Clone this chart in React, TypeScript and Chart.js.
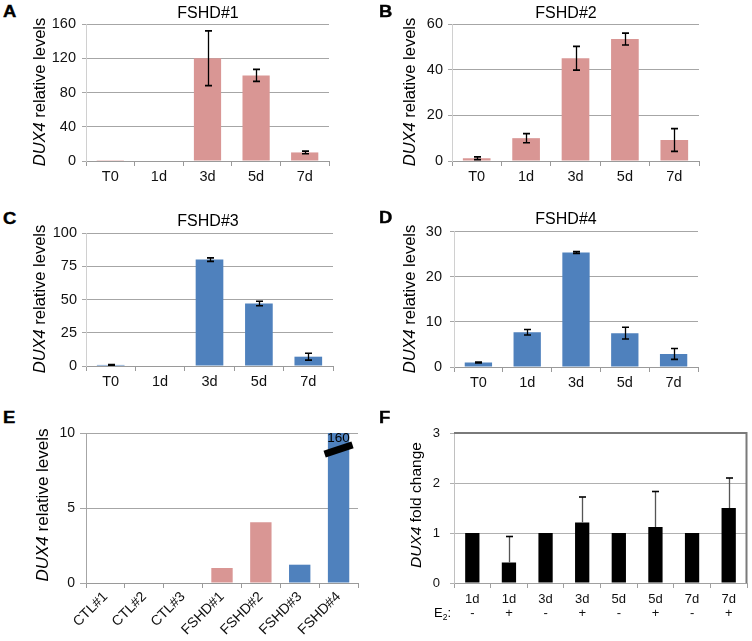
import React, { useEffect, useRef } from "react";
import { Chart, registerables } from "chart.js";

Chart.register(...registerables);

// ---------- data ----------
const timeLabels = ["T0", "1d", "3d", "5d", "7d"];

const fshd1Values = [1, 0, 120, 100, 10];
const fshd1Errors = [0, 0, 32, 7, 1.5];

const fshd2Values = [1.2, 10, 45, 53.4, 9.2];
const fshd2Errors = [0.6, 2, 5.2, 2.6, 5];

const fshd3Values = [0.8, 0, 80, 47, 7];
const fshd3Errors = [0.2, 0, 1.3, 1.7, 2.6];

const fshd4Values = [1.0, 7.7, 25.4, 7.5, 2.9];
const fshd4Errors = [0.1, 0.6, 0.2, 1.3, 1.2];

const sampleLabels = ["CTL#1", "CTL#2", "CTL#3", "FSHD#1", "FSHD#2", "FSHD#3", "FSHD#4"];
const sampleValues = [0, 0, 0, 1.0, 4.05, 1.22, 160];

const foldDays = ["1d", "1d", "3d", "3d", "5d", "5d", "7d", "7d"];
const foldE2 = ["-", "+", "-", "+", "-", "+", "-", "+"];
const foldValues = [1, 0.41, 1, 1.21, 1, 1.12, 1, 1.5];
const foldErrors = [0, 0.52, 0, 0.51, 0, 0.71, 0, 0.6];

// ---------- styles ----------
const FONT = "'Liberation Sans', Arial, Helvetica, sans-serif";
const PINK = "#D99694";
const BLUE = "#4F81BD";
const patientColor: Record<string, string> = {
  "CTL#1": "#808080",
  "CTL#2": "#808080",
  "CTL#3": "#808080",
  "FSHD#1": PINK,
  "FSHD#2": PINK,
  "FSHD#3": BLUE,
  "FSHD#4": BLUE,
};

// ---------- plugins ----------
const errorBarPlugin = {
  id: "errorBars",
  afterDatasetsDraw(chart: any, _args: any, opts: any) {
    if (!opts || !opts.errors) return;
    const ctx = chart.ctx;
    const y = chart.scales.y;
    const meta = chart.getDatasetMeta(0);
    const values = chart.data.datasets[0].data;
    ctx.save();
    meta.data.forEach((el: any, i: number) => {
      const e = opts.errors[i];
      if (!e) return;
      const v = values[i];
      const x = Math.round(el.x) + 0.5;
      const top = y.getPixelForValue(v + e);
      const bot = opts.upperOnly ? y.getPixelForValue(v) : y.getPixelForValue(v - e);
      const c = opts.capHalf;
      ctx.strokeStyle = opts.stemColor;
      ctx.lineWidth = opts.stemWidth;
      ctx.beginPath();
      ctx.moveTo(x, top);
      ctx.lineTo(x, bot);
      ctx.stroke();
      ctx.strokeStyle = opts.capColor;
      ctx.lineWidth = opts.capWidth;
      ctx.beginPath();
      ctx.moveTo(x - c, top);
      ctx.lineTo(x + c, top);
      if (!opts.upperOnly) {
        ctx.moveTo(x - c, bot);
        ctx.lineTo(x + c, bot);
      }
      ctx.stroke();
    });
    ctx.restore();
  },
};

const axisBreakPlugin = {
  id: "axisBreak",
  afterDatasetsDraw(chart: any, _args: any, opts: any) {
    if (!opts || !opts.enabled) return;
    const ctx = chart.ctx;
    const y = chart.scales.y;
    const max = y.max;
    const meta = chart.getDatasetMeta(0);
    const vals = chart.data.datasets[0].data;
    meta.data.forEach((el: any, i: number) => {
      if (vals[i] <= max) return;
      const w = el.width;
      const cy = y.getPixelForValue(max * 0.89);
      ctx.save();
      ctx.fillStyle = "#000";
      ctx.font = `13.5px ${FONT}`;
      ctx.textAlign = "center";
      ctx.textBaseline = "middle";
      ctx.fillText(String(vals[i]), el.x, cy - 11);
      ctx.translate(el.x, cy);
      ctx.rotate(-0.32);
      ctx.fillRect(-w / 2 - 4, -3.5, w + 8, 7);
      ctx.restore();
    });
  },
};

const framePlugin = {
  id: "frameTopRight",
  afterDraw(chart: any, _args: any, opts: any) {
    if (!opts || !opts.enabled) return;
    const ctx = chart.ctx;
    const { left, right, top, bottom } = chart.chartArea;
    ctx.save();
    ctx.strokeStyle = opts.color;
    ctx.lineWidth = opts.width;
    ctx.beginPath();
    ctx.moveTo(left, top);
    ctx.lineTo(right - 0.5, top);
    ctx.lineTo(right - 0.5, bottom);
    ctx.stroke();
    ctx.restore();
  },
};

// ---------- panel geometry ----------
type Geo = {
  cl: number; ct: number; cw: number; ch: number;
  pl: number; pr: number; pt: number; pb: number;
};

type PanelSpec = {
  geo: Geo;
  labels: any[];
  values: number[];
  colors: string | string[];
  errors?: number[];
  upperOnly?: boolean;
  max: number;
  step: number;
  barPct: number;
  tickFont: number;
  xTickFont?: number;
  yPad: number;
  yTickLen: number;
  xPad: number;
  rotate?: boolean;
  gridColor: string;
  yBorderColor: string;
  xBorderColor: string;
  stemColor?: string;
  frame?: boolean;
  axisBreak?: boolean;
};

function buildConfig(s: PanelSpec): any {
  const g = s.geo;
  const yW = g.pl - g.cl;
  const xH = g.ct + g.ch - g.pb;
  return {
    type: "bar",
    data: {
      labels: s.labels,
      datasets: [
        {
          data: s.values,
          backgroundColor: s.colors,
          borderWidth: 0,
          barPercentage: s.barPct,
          categoryPercentage: 1,
        },
      ],
    },
    plugins: [errorBarPlugin, axisBreakPlugin, framePlugin],
    options: {
      animation: false,
      responsive: false,
      maintainAspectRatio: false,
      devicePixelRatio: 1,
      layout: {
        padding: { top: g.pt - g.ct, right: g.cl + g.cw - g.pr, left: 0, bottom: 0 },
      },
      plugins: {
        legend: { display: false },
        tooltip: { enabled: false },
        title: { display: false },
        errorBars: {
          errors: s.errors,
          upperOnly: !!s.upperOnly,
          stemColor: s.stemColor || "#000",
          stemWidth: 1.3,
          capColor: "#000",
          capWidth: 1.6,
          capHalf: 3.5,
        },
        axisBreak: { enabled: !!s.axisBreak },
        frameTopRight: { enabled: !!s.frame, color: "#7a7a7a", width: 2 },
      },
      scales: {
        x: {
          grid: {
            display: true,
            drawOnChartArea: false,
            drawTicks: true,
            tickLength: 5,
            color: s.xBorderColor,
            offset: true,
          },
          border: { display: true, color: s.xBorderColor, width: 1 },
          ticks: {
            color: "#111",
            font: { family: FONT, size: s.xTickFont || s.tickFont, lineHeight: 1.1 },
            padding: s.xPad,
            autoSkip: false,
            maxRotation: s.rotate ? 45 : 0,
            minRotation: s.rotate ? 45 : 0,
          },
          afterFit: (sc: any) => {
            sc.height = xH;
          },
        },
        y: {
          min: 0,
          max: s.max,
          ticks: {
            stepSize: s.step,
            color: "#111",
            font: { family: FONT, size: s.tickFont },
            padding: s.yPad,
          },
          grid: { color: s.gridColor, tickLength: s.yTickLen, lineWidth: 1 },
          border: { display: true, color: s.yBorderColor, width: 1 },
          afterFit: (sc: any) => {
            sc.width = yW;
          },
        },
      },
    },
  };
}

function BarPanel({ spec }: { spec: PanelSpec }) {
  const ref = useRef<HTMLCanvasElement | null>(null);
  useEffect(() => {
    if (!ref.current) return;
    const chart = new Chart(ref.current, buildConfig(spec));
    return () => chart.destroy();
  }, [spec]);
  const g = spec.geo;
  return (
    <canvas
      ref={ref}
      width={g.cw}
      height={g.ch}
      style={{ position: "absolute", left: g.cl, top: g.ct, width: g.cw, height: g.ch, display: "block" }}
    />
  );
}

function Letter({ ch, x, y }: { ch: string; x: number; y: number }) {
  return (
    <div
      style={{
        position: "absolute",
        left: x,
        top: y,
        font: `900 16px ${FONT}`,
        lineHeight: "16px",
        transform: "scaleX(1.15)",
        transformOrigin: "left top",
        color: "#000",
        WebkitTextStroke: "0.4px #000",
      }}
    >
      {ch}
    </div>
  );
}

function Title({ text, cx, y }: { text: string; cx: number; y: number }) {
  return (
    <div
      style={{
        position: "absolute",
        left: cx,
        top: y,
        transform: "translateX(-50%)",
        font: `16px ${FONT}`,
        lineHeight: "16px",
        whiteSpace: "nowrap",
        color: "#000",
      }}
    >
      {text}
    </div>
  );
}

function YLabel({ rest, cx, cy, size }: { rest: string; cx: number; cy: number; size: number }) {
  return (
    <div
      style={{
        position: "absolute",
        left: cx,
        top: cy,
        transform: "translate(-50%, -50%) rotate(-90deg)",
        font: `${size}px ${FONT}`,
        lineHeight: 1,
        whiteSpace: "nowrap",
        color: "#000",
      }}
    >
      <i>DUX4</i>
      {rest}
    </div>
  );
}

const specA: PanelSpec = {
  geo: { cl: 20, ct: 8, cw: 345, ch: 190, pl: 86, pr: 329, pt: 24, pb: 161 },
  labels: timeLabels,
  values: fshd1Values,
  errors: fshd1Errors,
  colors: PINK,
  max: 160,
  step: 40,
  barPct: 0.56,
  tickFont: 14.5,
  yPad: 6,
  yTickLen: 4,
  xPad: 3,
  gridColor: "#a6a6a6",
  yBorderColor: "#d0d0d0",
  xBorderColor: "#9a9a9a",
};
const specB: PanelSpec = {
  ...specA,
  geo: { cl: 390, ct: 8, cw: 345, ch: 190, pl: 452, pr: 699, pt: 24, pb: 161 },
  values: fshd2Values,
  errors: fshd2Errors,
  max: 60,
  step: 20,
  yPad: 5,
};
const specC: PanelSpec = {
  ...specA,
  geo: { cl: 20, ct: 215, cw: 345, ch: 190, pl: 86, pr: 333, pt: 233, pb: 366 },
  values: fshd3Values,
  errors: fshd3Errors,
  colors: BLUE,
  max: 100,
  step: 25,
  yPad: 5,
};
const specD: PanelSpec = {
  ...specA,
  geo: { cl: 390, ct: 215, cw: 345, ch: 190, pl: 454, pr: 698, pt: 231, pb: 367 },
  values: fshd4Values,
  errors: fshd4Errors,
  colors: BLUE,
  max: 30,
  step: 10,
  yPad: 8,
};
const specE: PanelSpec = {
  geo: { cl: 20, ct: 415, cw: 350, ch: 226, pl: 86, pr: 358, pt: 433, pb: 583 },
  labels: sampleLabels,
  values: sampleValues,
  colors: sampleLabels.map((l) => patientColor[l]),
  max: 10,
  step: 5,
  barPct: 0.55,
  tickFont: 14,
  xTickFont: 14,
  yPad: 5,
  yTickLen: 6,
  xPad: 1,
  rotate: true,
  gridColor: "#a6a6a6",
  yBorderColor: "#a6a6a6",
  xBorderColor: "#9a9a9a",
  axisBreak: true,
};
const specF: PanelSpec = {
  geo: { cl: 390, ct: 415, cw: 362, ch: 226, pl: 454, pr: 747, pt: 433, pb: 583 },
  labels: foldDays.map((d, i) => [d, foldE2[i]]),
  values: foldValues,
  errors: foldErrors,
  upperOnly: true,
  colors: "#000",
  max: 3,
  step: 1,
  barPct: 0.39,
  tickFont: 13,
  yPad: 10,
  yTickLen: 4,
  xPad: 4,
  gridColor: "#b0b0b0",
  yBorderColor: "#c0c0c0",
  xBorderColor: "#a0a0a0",
  stemColor: "#555",
  frame: true,
};

export default function App() {
  return (
    <div
      style={{
        position: "absolute",
        left: 0,
        top: 0,
        width: 752,
        height: 641,
        background: "#fff",
        overflow: "hidden",
        fontFamily: FONT,
      }}
    >
      <BarPanel spec={specA} />
      <BarPanel spec={specB} />
      <BarPanel spec={specC} />
      <BarPanel spec={specD} />
      <BarPanel spec={specE} />
      <BarPanel spec={specF} />

      <Letter ch="A" x={3} y={4} />
      <Letter ch="B" x={379} y={4} />
      <Letter ch="C" x={3} y={211} />
      <Letter ch="D" x={379} y={210} />
      <Letter ch="E" x={3} y={410} />
      <Letter ch="F" x={379} y={410} />

      <Title text="FSHD#1" cx={208} y={5} />
      <Title text="FSHD#2" cx={566} y={5} />
      <Title text="FSHD#3" cx={208} y={213} />
      <Title text="FSHD#4" cx={566} y={211} />

      <YLabel rest=" relative levels" cx={39} cy={92} size={16.5} />
      <YLabel rest=" relative levels" cx={409} cy={92} size={16.5} />
      <YLabel rest=" relative levels" cx={39} cy={299} size={16.5} />
      <YLabel rest=" relative levels" cx={409} cy={299} size={16.5} />
      <YLabel rest=" relative levels" cx={42} cy={505} size={17} />
      <YLabel rest=" fold change" cx={416} cy={505} size={15.5} />

      <div
        style={{
          position: "absolute",
          left: 434,
          top: 606,
          font: `13px ${FONT}`,
          lineHeight: "13px",
          whiteSpace: "nowrap",
          color: "#000",
        }}
      >
        E<span style={{ fontSize: "8.5px", position: "relative", top: "3px" }}>2</span>:
      </div>
    </div>
  );
}
